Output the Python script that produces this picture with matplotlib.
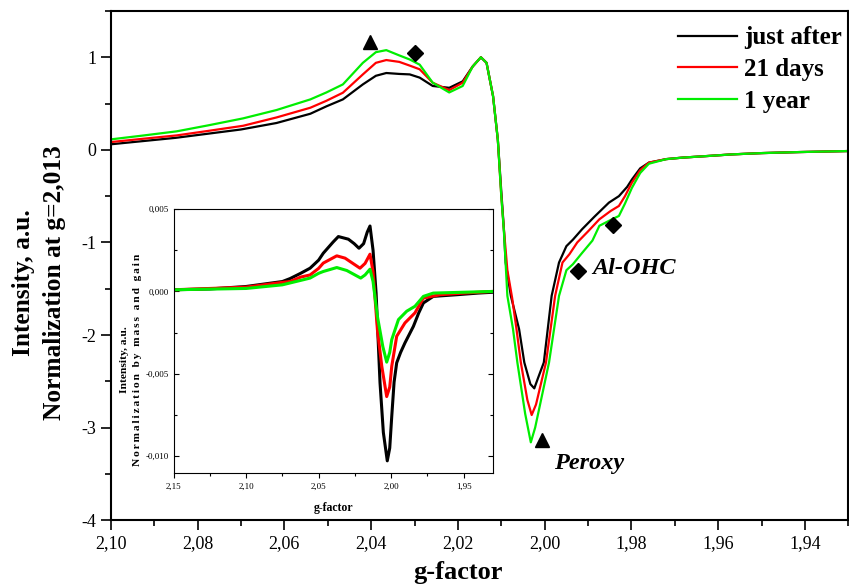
import matplotlib
matplotlib.use('Agg')
import matplotlib.pyplot as plt
from matplotlib.ticker import MultipleLocator, FuncFormatter

plt.rcParams['font.family'] = ['Liberation Serif', 'DejaVu Serif']

labels = ['just after', '21 days', '1 year']
colors = ['#000000', '#ff0000', '#00ee00']

# main panel, normalised at g=2,013
g_black = [2.100, 2.0925, 2.085, 2.0775, 2.070, 2.0618, 2.054, 2.0503, 2.0465, 2.0419,
           2.0389, 2.0365, 2.0335, 2.0311, 2.0288, 2.0258, 2.022, 2.0189, 2.0166, 2.0147,
           2.0134, 2.0119, 2.0108, 2.0100, 2.0094, 2.0090, 2.0078, 2.0059, 2.0047, 2.0033,
           2.0024, 2.0015, 2.0002, 1.9984, 1.9967, 1.9950, 1.9935, 1.9914, 1.9885, 1.9852,
           1.9829, 1.9810, 1.9799, 1.9780, 1.9760, 1.9720, 1.9683, 1.9620, 1.9569, 1.9500,
           1.9415, 1.9303]
v_black = [0.06, 0.095, 0.13, 0.175, 0.22, 0.29, 0.39, 0.47, 0.545, 0.707,
           0.80, 0.83, 0.82, 0.815, 0.78, 0.69, 0.67, 0.74, 0.90, 1.0,
           0.94, 0.58, 0.11, -0.45, -0.858, -1.217, -1.577, -1.936, -2.296, -2.53,
           -2.576, -2.46, -2.296, -1.577, -1.217, -1.04, -0.97, -0.858, -0.72, -0.57,
           -0.50, -0.40, -0.32, -0.20, -0.138, -0.10, -0.084, -0.065, -0.049, -0.035,
           -0.024, -0.013]

g_red = [2.100, 2.0925, 2.0848, 2.0775, 2.0695, 2.0618, 2.054, 2.0503, 2.0465, 2.0419,
         2.0389, 2.0365, 2.0335, 2.0311, 2.0288, 2.0258, 2.022, 2.0189, 2.0166, 2.0147,
         2.0134, 2.0119, 2.0108, 2.0100, 2.0094, 2.0086, 2.0075, 2.0065, 2.0055, 2.0040,
         2.0030, 2.0020, 1.9997, 1.9976, 1.9959, 1.9943, 1.9925, 1.9900, 1.9874, 1.9848,
         1.9829, 1.9815, 1.9799, 1.9780, 1.9760, 1.9720, 1.9683, 1.9620, 1.9569, 1.9500,
         1.9415, 1.9303]
v_red = [0.084, 0.12, 0.156, 0.205, 0.26, 0.35, 0.455, 0.53, 0.617, 0.815,
         0.94, 0.97, 0.95, 0.91, 0.87, 0.725, 0.645, 0.725, 0.90, 1.0,
         0.94, 0.58, 0.11, -0.5, -0.86, -1.3, -1.6, -1.936, -2.296, -2.70,
         -2.864, -2.75, -2.296, -1.577, -1.217, -1.127, -1.0, -0.88, -0.75, -0.66,
         -0.606, -0.50, -0.354, -0.22, -0.138, -0.10, -0.084, -0.065, -0.049, -0.035,
         -0.024, -0.013]

g_green = [2.100, 2.0925, 2.0848, 2.0775, 2.0695, 2.0618, 2.054, 2.0503, 2.0465, 2.0419,
           2.0389, 2.0365, 2.0335, 2.0311, 2.0288, 2.0258, 2.022, 2.0189, 2.0166, 2.0147,
           2.0134, 2.0119, 2.0108, 2.0100, 2.0094, 2.0086, 2.0073, 2.0063, 2.0045, 2.0032,
           2.0022, 1.9990, 1.9967, 1.9950, 1.9935, 1.9915, 1.9890, 1.9874, 1.9845, 1.9829,
           1.9815, 1.9799, 1.9780, 1.9760, 1.9720, 1.9683, 1.9620, 1.9569, 1.9500, 1.9415,
           1.9303]
v_green = [0.113, 0.155, 0.20, 0.265, 0.34, 0.43, 0.545, 0.62, 0.707, 0.94,
           1.055, 1.077, 1.02, 0.976, 0.92, 0.725, 0.62, 0.69, 0.90, 1.0,
           0.94, 0.58, 0.11, -0.5, -0.88, -1.577, -1.936, -2.296, -2.85, -3.159,
           -3.0, -2.296, -1.577, -1.30, -1.235, -1.12, -0.98, -0.82, -0.75, -0.714,
           -0.58, -0.41, -0.25, -0.15, -0.10, -0.084, -0.065, -0.049, -0.035, -0.024,
           -0.013]

# inset, normalised by mass and gain
gi_black = [2.150, 2.125, 2.100, 2.075, 2.0697, 2.0624, 2.0559, 2.050, 2.0468, 2.040,
            2.0364, 2.0295, 2.0255, 2.0222, 2.019, 2.0165, 2.0146, 2.0125, 2.0104, 2.0077,
            2.0054, 2.0027, 2.0010, 1.9996, 1.9980, 1.9962, 1.9935, 1.9905, 1.9847, 1.9810,
            1.9778, 1.971, 1.9548, 1.940, 1.930]
vi_black = [0.0001, 0.00015, 0.0003, 0.0006, 0.00078, 0.0011, 0.00141, 0.0019, 0.00232, 0.0030,
            0.00333, 0.00317, 0.0029, 0.00262, 0.0029, 0.0036, 0.00397, 0.0025, -0.0001, -0.00554,
            -0.00856, -0.01028, -0.0095, -0.00756, -0.0055, -0.00433, -0.0037, -0.00312, -0.00212, -0.0013,
            -0.0007, -0.0003, -0.0002, -0.0001, -0.00005]

gi_red = [2.150, 2.100, 2.075, 2.0697, 2.0624, 2.0559, 2.050, 2.0468, 2.0375, 2.0318,
          2.0215, 2.018, 2.0146, 2.0125, 2.0095, 2.0065, 2.0031, 2.0010, 1.9996, 1.9962,
          1.9905, 1.9836, 1.9778, 1.9663, 1.950, 1.930]
vi_red = [0.0001, 0.00026, 0.00055, 0.0006, 0.00087, 0.001, 0.0014, 0.00172, 0.00216, 0.00202,
          0.00141, 0.0017, 0.00226, 0.0012, -0.00232, -0.00453, -0.00638, -0.0058, -0.00453, -0.00272,
          -0.00191, -0.0013, -0.0004, -0.0002, -0.0001, 0.0]

gi_green = [2.150, 2.100, 2.075, 2.0624, 2.0559, 2.050, 2.0468, 2.0375, 2.0306, 2.021,
            2.018, 2.0146, 2.0125, 2.0095, 2.0058, 2.0031, 2.0010, 1.9996, 1.995, 1.9893,
            1.9836, 1.9778, 1.971, 1.930]
vi_green = [0.0001, 0.00018, 0.0004, 0.00067, 0.00081, 0.0011, 0.00121, 0.00145, 0.00127, 0.00081,
            0.0010, 0.00135, 0.0006, -0.00151, -0.00333, -0.00429, -0.0037, -0.00292, -0.00171, -0.0012,
            -0.0009, -0.0003, -0.0001, 0.0]

# marker positions (g, value)
tri_pts = [(2.0402, 1.163), (2.0007, -3.13)]
dia_pts = [(2.0300, 1.049), (1.9923, -1.307), (1.9843, -0.814)]


def gfmt(x, pos):
    return ('%.2f' % x).replace('.', ',')


fig = plt.figure(figsize=(8.49, 5.87), dpi=100)
ax = fig.add_axes([0.1304, 0.1138, 0.8690, 0.8675])

series = [(g_black, v_black), (g_red, v_red), (g_green, v_green)]
for (g, v), c, lab in zip(series, colors, labels):
    ax.plot(g, v, color=c, lw=1.6, label=lab)

for g, v in tri_pts:
    ax.plot(g, v, '^', color='k', ms=10)
for g, v in dia_pts:
    ax.plot(g, v, 'D', color='k', ms=8)

ax.text(1.9891, -1.28, 'Al-OHC', fontsize=17.5, fontweight='bold', style='italic', va='center')
ax.text(1.9979, -3.39, 'Peroxy', fontsize=17.5, fontweight='bold', style='italic', va='center')

ax.set_xlim(2.10, 1.93)
ax.set_ylim(-4, 1.5)
ax.xaxis.set_major_locator(MultipleLocator(0.02))
ax.xaxis.set_minor_locator(MultipleLocator(0.01))
ax.yaxis.set_major_locator(MultipleLocator(1))
ax.yaxis.set_minor_locator(MultipleLocator(0.5))
ax.xaxis.set_major_formatter(FuncFormatter(gfmt))
ax.yaxis.set_major_formatter(FuncFormatter(lambda y, p: '%d' % round(y)))
ax.tick_params(which='major', direction='out', length=7, width=1.2, labelsize=13)
ax.tick_params(which='minor', direction='out', length=4, width=1.2)
for s in ax.spines.values():
    s.set_linewidth(1.5)

fig.text(458 / 849, 1 - 572 / 587, 'g-factor', fontsize=19, fontweight='bold',
         ha='center', va='center')
fig.text(39 / 849, 1 - 283 / 587, 'Intensity, a.u.\nNormalization at g=2,013', fontsize=18.3,
         fontweight='bold', rotation=90, ha='center', va='center', multialignment='center',
         linespacing=1.42)

ax.legend(loc='upper left', bbox_to_anchor=(0.7986, 0.955), bbox_transform=fig.transFigure,
          frameon=False, prop={'size': 18, 'weight': 'bold'}, handlelength=2.36,
          handletextpad=0.28, borderpad=0, borderaxespad=0, labelspacing=0.35)

# inset
axi = fig.add_axes([0.2044, 0.1947, 0.3760, 0.4492])
ins = [(gi_black, vi_black), (gi_red, vi_red), (gi_green, vi_green)]
for (g, v), c in zip(ins, colors):
    axi.plot(g, v, color=c, lw=2.2)
axi.set_xlim(2.15, 1.93)
axi.set_ylim(-0.011, 0.005)
axi.xaxis.set_major_locator(MultipleLocator(0.05))
axi.xaxis.set_minor_locator(MultipleLocator(0.025))
axi.yaxis.set_major_locator(MultipleLocator(0.005))
axi.yaxis.set_minor_locator(MultipleLocator(0.0025))
axi.xaxis.set_major_formatter(FuncFormatter(gfmt))
axi.yaxis.set_major_formatter(FuncFormatter(lambda y, p: ('%.3f' % y).replace('.', ',')))
axi.tick_params(which='both', labelsize=6.5, width=0.8)
axi.tick_params(which='major', length=3.5)
axi.tick_params(which='minor', length=2)
axi.tick_params(axis='y', which='both', direction='in', left=True, right=True)
axi.tick_params(axis='x', which='both', direction='out')
for s in axi.spines.values():
    s.set_linewidth(0.8)
axi.set_xlabel('g-factor', fontsize=8.5, fontweight='bold', labelpad=8)

inset_ylab = ['Intensity, a.u.', 'Normalization by mass and gain']
spaced = '\u2006'.join(inset_ylab[1])
axi.set_ylabel(inset_ylab[0] + '\n' + spaced, fontsize=8.2, fontweight='bold',
               linespacing=1.5)
axi.yaxis.set_label_coords(-0.10, 0.43)

fig.savefig('out.png', dpi=100)
